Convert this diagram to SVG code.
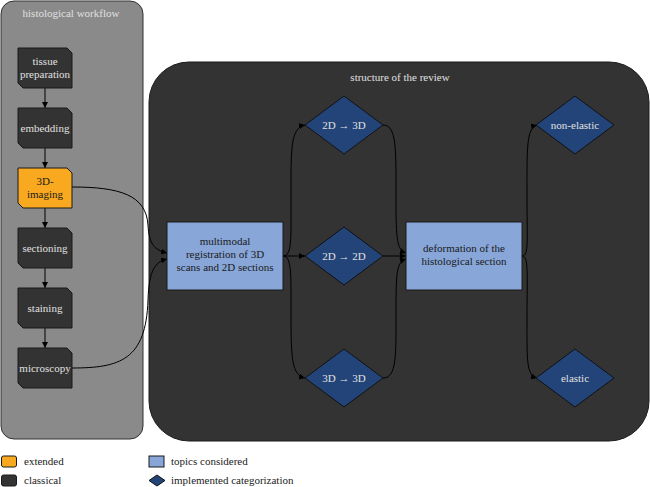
<svg xmlns="http://www.w3.org/2000/svg" width="650" height="487" viewBox="0 0 650 487">
<defs>
<style>
text{font-family:"Liberation Serif","DejaVu Serif",serif;font-size:11px;text-anchor:middle}
.lt{fill:#e0e0e0}
.dk{fill:#1a1a1a}
.cls{fill:#333333;stroke:#1a1a1a;stroke-width:1}
.ext{fill:#f8a91f;stroke:#1a1a1a;stroke-width:1}
.top{fill:#88a6d8;stroke:#1a1a1a;stroke-width:1}
.cat{fill:#234479;stroke:#111;stroke-width:1}
.e{fill:none;stroke:#000;stroke-width:1}
.leg{text-anchor:start;fill:#222}
</style>
<marker id="ah" viewBox="0 0 10 10" refX="10" refY="5" markerWidth="6" markerHeight="6" orient="auto" markerUnits="userSpaceOnUse">
<path d="M0,0 L10,5 L0,10 z" fill="#000"/>
</marker>
</defs>
<rect width="650" height="487" fill="#ffffff"/>

<g id="panel-workflow">
<rect x="1" y="1" width="142" height="438" rx="13" fill="#8a8a8a" stroke="#333" stroke-width="1"/>
<text x="71" y="17" class="lt">histological workflow</text>
</g>
<g id="panel-review">
<path d="M189,62 H609 A40,40 0 0 1 649,102 V401 A40,40 0 0 1 609,441 H189 A40,40 0 0 1 149,401 V102 A40,40 0 0 1 189,62 Z" fill="#333333" stroke="#1a1a1a" stroke-width="1"/>
<text x="400" y="81" class="lt">structure of the review</text>
</g>

<g id="connectors">
<path class="e" marker-end="url(#ah)" d="M45,88 V108"/>
<path class="e" marker-end="url(#ah)" d="M45,148 V168"/>
<path class="e" marker-end="url(#ah)" d="M45,208 V228"/>
<path class="e" marker-end="url(#ah)" d="M45,268 V288"/>
<path class="e" marker-end="url(#ah)" d="M45,328 V348"/>
<path class="e" marker-end="url(#ah)" d="M72,187 C120,187 146,195 148,225 C149,245 155,250 167,253"/>
<path class="e" marker-end="url(#ah)" d="M72,368 C120,368 146,360 148,300 C149,270 155,262 167,259"/>
<path class="e" marker-end="url(#ah)" d="M283,256 C292,256 291,240 291,200 C291,150 290,128 305,125"/>
<path class="e" marker-end="url(#ah)" d="M283,256 H305"/>
<path class="e" marker-end="url(#ah)" d="M283,256 C292,256 291,275 291,315 C291,360 292,375 305,378"/>
<path class="e" marker-end="url(#ah)" d="M383,125 C397,125 396,150 396,200 C396,240 397,250 406,253"/>
<path class="e" marker-end="url(#ah)" d="M383,256 H406"/>
<path class="e" marker-end="url(#ah)" d="M383,378 C397,378 396,355 396,310 C396,270 397,262 406,259"/>
<path class="e" marker-end="url(#ah)" d="M522,256 C529,256 527,240 527,200 C527,150 526,128 537,125"/>
<path class="e" marker-end="url(#ah)" d="M522,256 C529,256 527,275 527,315 C527,360 526,375 537,378"/>
</g>

<g id="n-tissue"><path class="cls" d="M18,48 H67 L72,53 V88 H23 L18,83 Z"/><text x="45" y="65" class="lt">tissue</text><text x="45" y="78" class="lt">preparation</text></g>
<g id="n-embedding"><path class="cls" d="M18,108 H67 L72,113 V148 H23 L18,143 Z"/><text x="45" y="131.5" class="lt">embedding</text></g>
<g id="n-imaging"><path class="ext" d="M18,168 H67 L72,173 V208 H23 L18,203 Z"/><text x="45" y="185" class="dk">3D-</text><text x="45" y="198" class="dk">imaging</text></g>
<g id="n-sectioning"><path class="cls" d="M18,228 H67 L72,233 V268 H23 L18,263 Z"/><text x="45" y="251.5" class="lt">sectioning</text></g>
<g id="n-staining"><path class="cls" d="M18,288 H67 L72,293 V328 H23 L18,323 Z"/><text x="45" y="311.5" class="lt">staining</text></g>
<g id="n-microscopy"><path class="cls" d="M18,348 H67 L72,353 V388 H23 L18,383 Z"/><text x="45" y="371.5" class="lt">microscopy</text></g>

<g id="n-multimodal"><rect class="top" x="167" y="222" width="116" height="68"/><text x="225" y="245" class="dk">multimodal</text><text x="225" y="258" class="dk">registration of 3D</text><text x="225" y="271" class="dk">scans and 2D sections</text></g>
<g id="n-2d3d"><path class="cat" d="M344,96 L383,125 L344,154 L305,125 Z"/><text x="344" y="129" class="lt">2D → 3D</text></g>
<g id="n-2d2d"><path class="cat" d="M344,227 L383,256 L344,285 L305,256 Z"/><text x="344" y="260" class="lt">2D → 2D</text></g>
<g id="n-3d3d"><path class="cat" d="M344,349 L383,378 L344,407 L305,378 Z"/><text x="344" y="382" class="lt">3D → 3D</text></g>
<g id="n-deformation"><rect class="top" x="406" y="222" width="116" height="68"/><text x="464" y="252" class="dk">deformation of the</text><text x="464" y="265" class="dk">histological section</text></g>
<g id="n-nonelastic"><path class="cat" d="M575,96 L614,125 L575,154 L536,125 Z"/><text x="575" y="129" class="lt">non-elastic</text></g>
<g id="n-elastic"><path class="cat" d="M575,349 L614,378 L575,407 L536,378 Z"/><text x="575" y="382" class="lt">elastic</text></g>

<g id="legend">
<rect class="ext" x="1.5" y="456" width="15" height="11" rx="2"/><text x="24" y="465" class="leg">extended</text>
<rect class="cls" x="1.5" y="475" width="15" height="11" rx="2"/><text x="24" y="484" class="leg">classical</text>
<rect class="top" x="149" y="456" width="15" height="11"/><text x="171" y="465" class="leg">topics considered</text>
<path class="cat" d="M157,475 L165,480.5 L157,486 L149,480.5 Z"/><text x="171" y="484" class="leg">implemented categorization</text>
</g>
</svg>
